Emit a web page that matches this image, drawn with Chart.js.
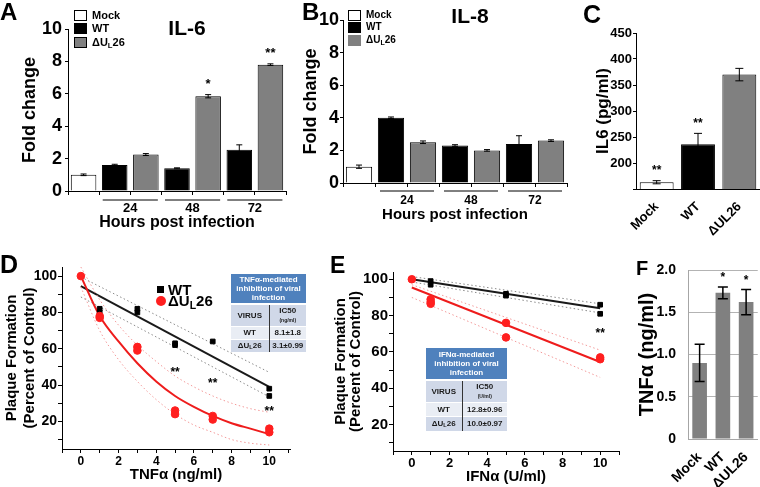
<!DOCTYPE html>
<html>
<head>
<meta charset="utf-8">
<script src="https://cdn.jsdelivr.net/npm/chart.js@4"></script>
<style>
  body { margin: 0; background: #fff; width: 760px; height: 487px; position: relative; overflow: hidden;
         font-family: 'Liberation Sans', Arial, sans-serif; font-weight: bold; color: #000; }
  canvas { position: absolute; }
  .t { position: absolute; line-height: 1; white-space: nowrap; }
  .sw { position: absolute; width: 11px; height: 9px; border: 1px solid #000; }
  sub { font-size: 0.7em; vertical-align: -0.25em; line-height: 0; }
  .tbl { position: absolute; border-collapse: collapse; table-layout: fixed; font-size: 8px; color: #1a1a1a; text-align: center; }
  .tbl td { padding: 0; line-height: 9px; border-top: 1px solid #fff; }
  .tbl .th { background: #4f81bd; color: #fff; border-bottom: 2px solid #fff; }
  .tbl .r1 td { background: #d0d8e8; }
  .tbl .r2 td { background: #e9edf4; }
  .tbl td.c2 { border-left: 1px solid #333; }
  .u { font-size: 5px; line-height: 6px; }
</style>
</head>
<body>
<canvas id="cA" width="290" height="235" style="left:0;top:0"></canvas>
<canvas id="cB" width="285" height="225" style="left:290px;top:0"></canvas>
<canvas id="cC" width="200" height="240" style="left:560px;top:0"></canvas>
<canvas id="cD" width="305" height="242" style="left:0;top:245px"></canvas>
<canvas id="cE" width="320" height="242" style="left:305px;top:245px"></canvas>
<canvas id="cF" width="135" height="242" style="left:625px;top:245px"></canvas>

<!-- panel letters and titles -->
<div class="t" style="left:0;top:0;font-size:24px">A</div>
<div class="t" style="left:302px;top:0;font-size:24px">B</div>
<div class="t" style="left:583px;top:2px;font-size:25px">C</div>
<div class="t" style="left:0;top:252px;font-size:25px">D</div>
<div class="t" style="left:330px;top:254px;font-size:23px">E</div>
<div class="t" style="left:636px;top:258px;font-size:20px">F</div>
<div class="t" style="left:147px;top:17px;width:80px;text-align:center;font-size:21px">IL-6</div>
<div class="t" style="left:430px;top:5px;width:80px;text-align:center;font-size:21px">IL-8</div>

<!-- legend A -->
<div class="sw" style="left:74px;top:10px;background:#fff"></div>
<div class="sw" style="left:74px;top:23px;background:#000"></div>
<div class="sw" style="left:74px;top:37px;background:#808080"></div>
<div class="t" style="left:92px;top:10px;font-size:11px">Mock</div>
<div class="t" style="left:92px;top:23px;font-size:11px">WT</div>
<div class="t" style="left:92px;top:37px;font-size:11px">ΔU<sub>L</sub>26</div>

<!-- legend B -->
<div class="sw" style="left:348px;top:10px;background:#fff"></div>
<div class="sw" style="left:348px;top:22px;background:#000"></div>
<div class="sw" style="left:348px;top:35px;background:#808080;border-color:#808080"></div>
<div class="t" style="left:366px;top:10px;font-size:10px">Mock</div>
<div class="t" style="left:366px;top:22px;font-size:10px">WT</div>
<div class="t" style="left:366px;top:35px;font-size:10px">ΔU<sub>L</sub>26</div>

<!-- legend D -->
<div style="position:absolute;left:157px;top:286px;width:7px;height:7px;background:#000"></div>
<div class="t" style="left:168px;top:282px;font-size:15px">WT</div>
<div style="position:absolute;left:156px;top:296px;width:10px;height:10px;border-radius:50%;background:#ff1f1f"></div>
<div class="t" style="left:168px;top:293px;font-size:15px">ΔU<sub>L</sub>26</div>

<!-- table D -->
<table class="tbl" style="left:231px;top:273px;width:75px">
  <col style="width:38px"><col style="width:37px">
  <tr><td colspan="2" class="th" style="height:29px">TNFα-mediated inhibition of viral infection</td></tr>
  <tr class="r1" style="height:22px"><td>VIRUS</td><td class="c2">IC50<br><span class="u">(ng/ml)</span></td></tr>
  <tr class="r2" style="height:13px"><td>WT</td><td class="c2">8.1±1.8</td></tr>
  <tr class="r1" style="height:13px"><td>ΔU<sub>L</sub>26</td><td class="c2">3.1±0.99</td></tr>
</table>

<!-- table E -->
<table class="tbl" style="left:426px;top:347px;width:81px">
  <col style="width:36px"><col style="width:45px">
  <tr><td colspan="2" class="th" style="height:31px">IFNα-mediated inhibition of viral infection</td></tr>
  <tr class="r1" style="height:22px"><td>VIRUS</td><td class="c2">IC50<br><span class="u">(U/ml)</span></td></tr>
  <tr class="r2" style="height:14px"><td>WT</td><td class="c2">12.8±0.96</td></tr>
  <tr class="r1" style="height:15px"><td>ΔU<sub>L</sub>26</td><td class="c2">10.0±0.97</td></tr>
</table>

<script>
// ---- A / B: fold change by hours post infection
const barLabels = ['Mock', 'WT', 'ΔUL26', 'WT', 'ΔUL26', 'WT', 'ΔUL26'];
const hourGroups = ['24', '48', '72'];
const groupStart = [1, 3, 5];
const il6Fold = [1.0, 1.6, 2.25, 1.4, 5.85, 2.55, 7.8];
const il6Err = [0.05, 0.05, 0.06, 0.03, 0.1, 0.3, 0.05];
const il6Stars = ['', '', '', '', '*', '', '**'];
const il8Fold = [1.0, 4.0, 2.5, 2.3, 2.0, 2.4, 2.6];
const il8Err = [0.1, 0.05, 0.08, 0.05, 0.05, 0.5, 0.05];

// ---- C: IL6 protein
const cLabels = ['Mock', 'WT', 'ΔUL26'];
const il6Conc = [163, 236, 370];
const il6ConcErr = [3, 21, 12];
const il6ConcStars = ['**', '**', ''];

// ---- D: TNFα plaque formation
const wtTnfX = [0, 1, 1, 3, 3, 5, 5, 7, 10, 10];
const wtTnfY = [100, 82, 80, 82, 80, 63, 62, 64, 38, 34];
const ulTnfX = [0, 1, 1, 3, 3, 5, 5, 7, 7, 10, 10];
const ulTnfY = [100, 78, 77, 61, 59, 26, 24, 23, 21, 16, 14];
const tnfLineX = [0, 10];
const wtTnfFit = [94.5, 39];
const wtTnfUpper = [99.5, 47];
const wtTnfLower = [88.5, 33.5];
const tnfCurveX = [0, 1, 2, 3, 4, 5, 6, 7, 8, 9, 10];
const ulTnfFit = [100, 78, 64, 52, 42, 34, 28, 23, 19, 16, 13];
const ulTnfUpper = [105, 87, 73, 62, 53, 45, 39, 34, 30, 27, 25];
const ulTnfLower = [94, 70, 54, 42, 32, 24, 18, 14, 10, 8, 7];
const tnfStarX = [5, 7, 10];
const tnfStarY = [47, 41, 25.5];

// ---- E: IFNα plaque formation
const wtIfnX = [0, 1, 1, 5, 5, 10, 10];
const wtIfnY = [100, 99, 97, 92, 91, 86, 81];
const ulIfnX = [0, 1, 1, 1, 5, 5, 10, 10];
const ulIfnY = [100, 89, 87.5, 86.5, 76, 68, 57, 56];
const ifnLineX = [0, 10];
const wtIfnFit = [100, 84];
const wtIfnUpper = [101.5, 86.5];
const wtIfnLower = [98.5, 81.5];
const ulIfnFit = [95.5, 54.5];
const ulIfnUpper = [97, 61];
const ulIfnLower = [90, 46];
const ifnStarX = [10];
const ifnStarY = [70];

// ---- F: TNFα protein
const fLabels = ['Mock', 'WT', 'ΔUL26'];
const tnfConc = [0.9, 1.73, 1.62];
const tnfConcErr = [0.22, 0.07, 0.15];
const tnfConcStars = ['', '*', '*'];

const FONT = "'Liberation Sans', Arial, sans-serif";
Chart.defaults.font.family = FONT;
Chart.defaults.font.weight = 'bold';
Chart.defaults.color = '#000';
Chart.defaults.animation = false;
Chart.defaults.plugins.legend.display = false;
Chart.defaults.plugins.tooltip.enabled = false;

const pts = (xs, ys) => xs.map((x, i) => ({ x, y: ys[i] }));

// error bars + significance stars on a single-dataset bar chart
const errorBars = {
  id: 'errorBars',
  afterDatasetsDraw(chart, args, o) {
    const { ctx } = chart;
    const y = chart.scales.y;
    const vals = chart.data.datasets[0].data;
    ctx.save();
    ctx.strokeStyle = '#000';
    ctx.lineWidth = o.width;
    chart.getDatasetMeta(0).data.forEach((bar, i) => {
      const top = y.getPixelForValue(vals[i] + o.err[i]);
      const bot = y.getPixelForValue(vals[i] - o.err[i]);
      const c = o.cap / 2;
      ctx.beginPath();
      ctx.moveTo(bar.x, top); ctx.lineTo(bar.x, bot);
      ctx.moveTo(bar.x - c, top); ctx.lineTo(bar.x + c, top);
      ctx.moveTo(bar.x - c, bot); ctx.lineTo(bar.x + c, bot);
      ctx.stroke();
      if (o.stars && o.stars[i]) {
        ctx.fillStyle = '#000';
        ctx.font = `bold ${o.starSize}px ${FONT}`;
        ctx.textAlign = 'center';
        ctx.textBaseline = 'middle';
        ctx.fillText(o.stars[i], bar.x, top - o.starGap);
      }
    });
    ctx.restore();
  }
};

// hour group underlines and labels under the category axis
const hourAxis = {
  id: 'hourAxis',
  afterDraw(chart, args, o) {
    const { ctx, chartArea } = chart;
    const x = chart.scales.x;
    ctx.save();
    ctx.strokeStyle = '#000';
    ctx.fillStyle = '#000';
    ctx.lineWidth = 1;
    ctx.font = `bold ${o.size}px ${FONT}`;
    ctx.textAlign = 'center';
    ctx.textBaseline = 'middle';
    hourGroups.forEach((g, k) => {
      const a = x.getPixelForValue(groupStart[k]) - o.half;
      const b = x.getPixelForValue(groupStart[k] + 1) + o.half;
      const ly = chartArea.bottom + o.lineY;
      ctx.beginPath(); ctx.moveTo(a, ly); ctx.lineTo(b, ly); ctx.stroke();
      ctx.fillText(g, (a + b) / 2, chartArea.bottom + o.textY);
    });
    ctx.restore();
  }
};

// text marks at data coordinates
const starMarks = {
  id: 'starMarks',
  afterDatasetsDraw(chart, args, o) {
    const { ctx } = chart;
    ctx.save();
    ctx.fillStyle = '#000';
    ctx.font = `bold 12px ${FONT}`;
    ctx.textAlign = 'center';
    ctx.textBaseline = 'middle';
    o.x.forEach((v, i) => ctx.fillText('**', chart.scales.x.getPixelForValue(v), chart.scales.y.getPixelForValue(o.y[i])));
    ctx.restore();
  }
};

const tickGrid = { display: true, drawOnChartArea: false, drawTicks: true, tickLength: 4, color: '#000' };
const blackBorder = { display: true, color: '#000', width: 1 };

function foldChart(id, vals, err, stars, o) {
  const colors = barLabels.map((l, i) => i === 0 ? '#fff' : (l === 'WT' ? '#000' : '#808080'));
  return new Chart(document.getElementById(id), {
    type: 'bar',
    data: { labels: barLabels, datasets: [{ data: vals, backgroundColor: colors, borderColor: '#000', borderWidth: 1, barPercentage: 0.82, categoryPercentage: 1 }] },
    options: {
      responsive: false,
      layout: { padding: { left: 0, right: o.right, top: o.top, bottom: 0 } },
      scales: {
        x: {
          afterFit: s => { s.height = o.xh; },
          ticks: { display: false },
          grid: tickGrid, border: blackBorder,
          title: { display: true, text: 'Hours post infection', font: { size: o.xtSize }, padding: { top: 0, bottom: o.xtPad } }
        },
        y: {
          min: 0, max: 10,
          afterFit: s => { s.width = o.yw; },
          ticks: { stepSize: 2, font: { size: 18 }, padding: o.tickPad },
          grid: Object.assign({}, tickGrid, { tickLength: 3 }), border: blackBorder,
          title: { display: true, text: 'Fold change', font: { size: 18 }, padding: { top: o.ytPad, bottom: 0 } }
        }
      },
      plugins: {
        errorBars: { err, stars, cap: 6, width: 1, starSize: 13, starGap: 10 },
        hourAxis: { half: o.half, lineY: o.lineY, textY: o.textY, size: o.gSize }
      }
    },
    plugins: [errorBars, hourAxis]
  });
}

foldChart('cA', il6Fold, il6Err, il6Stars, { right: 4, top: 29, xh: 44, yw: 68, tickPad: 3, xtPad: 3, xtSize: 16, ytPad: 19, half: 12, lineY: 9, textY: 17, gSize: 13 });
foldChart('cB', il8Fold, il8Err, [], { right: 8, top: 20, xh: 42, yw: 53, tickPad: 1, xtPad: 1, xtSize: 15, ytPad: 10, half: 11, lineY: 8, textY: 18, gSize: 12 });

// C
new Chart(document.getElementById('cC'), {
  type: 'bar',
  data: { labels: cLabels, datasets: [{ data: il6Conc, backgroundColor: ['#fff', '#000', '#808080'], borderColor: '#000', borderWidth: 1, barPercentage: 0.82, categoryPercentage: 1 }] },
  options: {
    responsive: false,
    layout: { padding: { left: 0, right: 0, top: 33, bottom: 0 } },
    scales: {
      x: {
        afterFit: s => { s.height = 51; },
        ticks: { font: { size: 13 }, minRotation: 45, maxRotation: 45, autoSkip: false, padding: 2 },
        grid: { display: false }, border: blackBorder
      },
      y: {
        min: 150, max: 450,
        afterFit: s => { s.width = 76; },
        ticks: { stepSize: 50, font: { size: 13 }, padding: 1, callback: v => v === 150 ? '' : v },
        grid: Object.assign({}, tickGrid, { tickLength: 3 }), border: blackBorder,
        title: { display: true, text: 'IL6 (pg/ml)', font: { size: 17 }, padding: { top: 33, bottom: 0 } }
      }
    },
    plugins: { errorBars: { err: il6ConcErr, stars: il6ConcStars, cap: 8, width: 1, starSize: 12, starGap: 10 } }
  },
  plugins: [errorBars]
});

function doseChart(id, d) {
  const line = (xs, ys, color, w, dash, curve) => ({
    type: 'line', data: pts(xs, ys), borderColor: color, borderWidth: w, borderDash: dash,
    pointRadius: 0, fill: false, cubicInterpolationMode: curve ? 'monotone' : 'default', clip: false
  });
  return new Chart(document.getElementById(id), {
    type: 'scatter',
    data: { datasets: [
      { data: pts(d.ulX, d.ulY), pointStyle: 'circle', pointRadius: 3.8, backgroundColor: '#ff1f1f', borderColor: '#ff1f1f' },
      { data: pts(d.wtX, d.wtY), pointStyle: 'rect', pointRadius: 3.3, backgroundColor: '#000', borderColor: '#000' },
      line(d.curveX, d.ulFit, '#ee1c1c', 2, [], true),
      line(d.curveX, d.ulUp, '#f39a9a', 1, [1.5, 2.5], true),
      line(d.curveX, d.ulLo, '#f39a9a', 1, [1.5, 2.5], true),
      line(d.lineX, d.wtFit, '#1a1a1a', 2, [], false),
      line(d.lineX, d.wtUp, '#8a8a8a', 1, [1.5, 2.5], false),
      line(d.lineX, d.wtLo, '#8a8a8a', 1, [1.5, 2.5], false)
    ] },
    options: {
      responsive: false,
      layout: { padding: { left: 0, right: d.right, top: d.top, bottom: 0 } },
      scales: {
        x: {
          type: 'linear', min: -1, max: d.xmax,
          afterFit: s => { s.height = d.xh; },
          ticks: { stepSize: 1, includeBounds: false, autoSkip: false, maxRotation: 0, font: { size: d.xtick }, padding: 1,
                   callback: v => (v >= 0 && v % 2 === 0) ? v : '' },
          grid: tickGrid, border: blackBorder,
          title: { display: true, text: d.xTitle, font: { size: 15 }, padding: { top: 0, bottom: d.xtPad } }
        },
        y: {
          min: d.ymin, max: d.ymax,
          afterFit: s => { s.width = d.yw; },
          ticks: { stepSize: 10, includeBounds: false, autoSkip: false, font: { size: d.ytick }, padding: 1,
                   callback: v => Math.abs(v % 20) < 0.01 ? Math.round(v) : '' },
          grid: tickGrid, border: blackBorder,
          title: { display: true, text: ['Plaque Formation', '(Percent of Control)'], font: { size: 15, lineHeight: d.lh },
                   padding: { top: d.ytPad, bottom: 0 } }
        }
      },
      plugins: { starMarks: { x: d.starX, y: d.starY } }
    },
    plugins: [starMarks]
  });
}

doseChart('cD', {
  ulX: ulTnfX, ulY: ulTnfY, wtX: wtTnfX, wtY: wtTnfY,
  curveX: tnfCurveX, ulFit: ulTnfFit, ulUp: ulTnfUpper, ulLo: ulTnfLower,
  lineX: tnfLineX, wtFit: wtTnfFit, wtUp: wtTnfUpper, wtLo: wtTnfLower,
  starX: tnfStarX, starY: tnfStarY, xTitle: 'TNFα (ng/ml)',
  right: 15, top: 22, xh: 38, yw: 62, xmax: 11.1, ymin: 4.8, ymax: 105,
  xtick: 12, ytick: 14, xtPad: 3, ytPad: 3, lh: 1.2
});

doseChart('cE', {
  ulX: ulIfnX, ulY: ulIfnY, wtX: wtIfnX, wtY: wtIfnY,
  curveX: ifnLineX, ulFit: ulIfnFit, ulUp: ulIfnUpper, ulLo: ulIfnLower,
  lineX: ifnLineX, wtFit: wtIfnFit, wtUp: wtIfnUpper, wtLo: wtIfnLower,
  starX: ifnStarX, starY: ifnStarY, xTitle: 'IFNα (U/ml)',
  right: 6, top: 27, xh: 36, yw: 88, xmax: 11, ymin: 5.5, ymax: 104,
  xtick: 13, ytick: 15, xtPad: 1, ytPad: 28, lh: 1.0
});

// F
new Chart(document.getElementById('cF'), {
  type: 'bar',
  data: { labels: fLabels, datasets: [{ data: tnfConc, backgroundColor: '#808080', borderWidth: 0, barPercentage: 0.63, categoryPercentage: 1 }] },
  options: {
    responsive: false,
    layout: { padding: { left: 0, right: 0, top: 25, bottom: 0 } },
    scales: {
      x: {
        afterFit: s => { s.height = 48; },
        ticks: { font: { size: 14 }, minRotation: 45, maxRotation: 45, autoSkip: false, padding: 2 },
        grid: { display: false }, border: { display: true, color: '#a6a6a6' }
      },
      y: {
        min: 0, max: 2,
        afterFit: s => { s.width = 63; },
        ticks: { stepSize: 0.5, font: { size: 14 }, padding: 12 },
        grid: { color: '#b3b3b3', drawTicks: false }, border: { display: true, color: '#a6a6a6' },
        title: { display: true, text: 'TNFα (ng/ml)', font: { size: 20 }, padding: { top: 10, bottom: 0 } }
      }
    },
    plugins: { errorBars: { err: tnfConcErr, stars: tnfConcStars, cap: 10, width: 1.5, starSize: 12, starGap: 9 } }
  },
  plugins: [errorBars]
});
</script>
</body>
</html>
